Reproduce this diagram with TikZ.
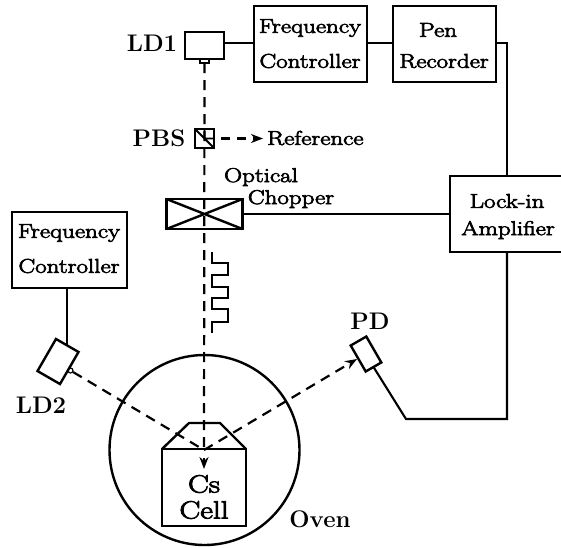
\documentclass[tikz,border=0pt]{standalone}
\usepackage{fontspec}
\usetikzlibrary{arrows.meta,calc}
\newfontface\semifont{Latin Modern Roman}[RawFeature={embolden=3.5},FakeStretch=1.25]
\tikzset{
  boxnode/.style={draw,line width=2.4pt,inner sep=0pt,outer sep=0pt,rectangle},
  wire/.style={line width=2.1pt},
  beam/.style={line width=2.2pt,dash pattern=on 10pt off 7pt},
  tip/.style={-{Stealth[length=12pt,width=9pt]}},
  lab/.style={inner sep=0pt,font=\semifont\fontsize{20}{24}\selectfont,align=center},
  blab/.style={inner sep=0pt,font=\fontsize{24}{27}\selectfont\bfseries},
}
\begin{document}
\begin{tikzpicture}[x=1pt,y=-1pt]
\useasboundingbox (0,0) rectangle (561,547);
% boxes
\node[boxnode,minimum width=39pt,minimum height=27pt] (ld1) at (204.5,45.5) {};
\node[boxnode,minimum width=113pt,minimum height=76pt] (fc1) at (310.5,44) {};
\node[boxnode,minimum width=103pt,minimum height=76pt] (pen) at (444.5,44) {};
\node[boxnode,minimum width=113pt,minimum height=76pt] (lock) at (506.5,214) {};
\node[boxnode,minimum width=115pt,minimum height=76pt] (fc2) at (69.5,250) {};
\node[boxnode,minimum width=76pt,minimum height=30pt] (chop) at (204.5,214) {};
\node[boxnode,minimum width=19pt,minimum height=19pt] (pbs) at (204.5,138.5) {};
\node[boxnode,minimum width=9pt,minimum height=4pt] (stub) at (204.5,61) {};
\node[boxnode,minimum width=26pt,minimum height=37pt,rotate=-30] (ld2) at (58,361.5) {};
\node[boxnode,minimum width=30pt,minimum height=18pt,rotate=-60] (pd) at (366,354) {};
\node[draw,circle,line width=2.4pt,minimum size=190pt,inner sep=0pt] (oven) at (204.5,450) {};
\node[boxnode,minimum width=84pt,minimum height=77pt] (cell) at (204,487.5) {};
\draw[line width=2.4pt,line join=round] (cell.north west) -- (189,423) coordinate (ta) -- (220,423) coordinate (tb) -- (cell.north east);
% chopper and PBS details
\draw[line width=2.4pt] (chop.north west) -- (chop.south east) (chop.north east) -- (chop.south west);
\draw[line width=1.8pt] (pbs.north west) -- (pbs.south east) (pbs.north) -- (pbs.center) -- (pbs.east);
% wires
\draw[wire] (ld1.east |- 0,43) -- (fc1.west |- 0,43);
\draw[wire] (fc1.east |- 0,43) -- (pen.west |- 0,43);
\draw[wire] (pen.east |- 0,43) -- (507,43) coordinate (c0) -- (c0 |- lock.north);
\draw[wire] (chop.east) -- (lock.west |- chop.east);
\draw[wire] (c0 |- lock.south) -- (507,419) coordinate (c1) -- (406,419) coordinate (c2) -- (pd.east);
\draw[wire] (ld2.north |- fc2.south) -- (ld2.north);
% beams
\coordinate (focus) at (204,450);
\coordinate (pdin) at (357,359);
\coordinate (refend) at (263,138.5);
\coordinate (celltip) at (204,469);
\node[draw,circle,line width=1.2pt,minimum size=5pt,inner sep=0pt] (ld2out) at (70.5,370.5) {};
\draw[beam] (stub.south) -- (focus);
\draw[beam,tip,dash pattern=on 20pt] (focus) ++(0,8) -- (celltip);
\draw[beam] (ld2out) -- (focus);
\draw[beam,tip] (focus) -- (pdin);
\draw[beam,tip,dash pattern=on 9pt off 7pt] (pbs.east) ++(7,0) -- (refend);
% chopped wave
\draw[line width=2pt] (212,252) -- (212,263) -- (228,263) -- (228,275) -- (212,275) -- (212,287) -- (228,287) -- (228,298) -- (212,298) -- (212,309) -- (228,309) -- (228,322) -- (212,322) -- (212,333);
% labels
\node[blab] (tld1) at (152,43) {LD1};
\node[blab] (tpbs) at (159,138) {PBS};
\node[blab] (tld2) at (41,405) {LD2};
\node[blab] (tpd) at (370,321) {PD};
\node[blab] (toven) at (320,519) {Oven};
\node[lab,anchor=west] (tref) at (267,138) {Reference};
\node[lab] (tf1a) at (310,28) {Frequency};
\node[lab] (tf1b) at (310,61) {Controller};
\node[lab] (tpa) at (438,30) {Pen};
\node[lab] (tpb) at (444,61) {Recorder};
\node[lab] (tla) at (507,201) {Lock-in};
\node[lab] (tlb) at (508,230) {Amplifier};
\node[lab] (tfa) at (69,233) {Frequency};
\node[lab] (tfb) at (69,266) {Controller};
\node[lab] (topt) at (261,177) {Optical};
\node[lab] (tcho) at (291,199) {Chopper};
\node[lab,font=\semifont\fontsize{25}{28}\selectfont] (tcs) at (204,484) {Cs};
\node[lab,font=\semifont\fontsize{25}{28}\selectfont] (tcel) at (204,510) {Cell};
\end{tikzpicture}
\end{document}
